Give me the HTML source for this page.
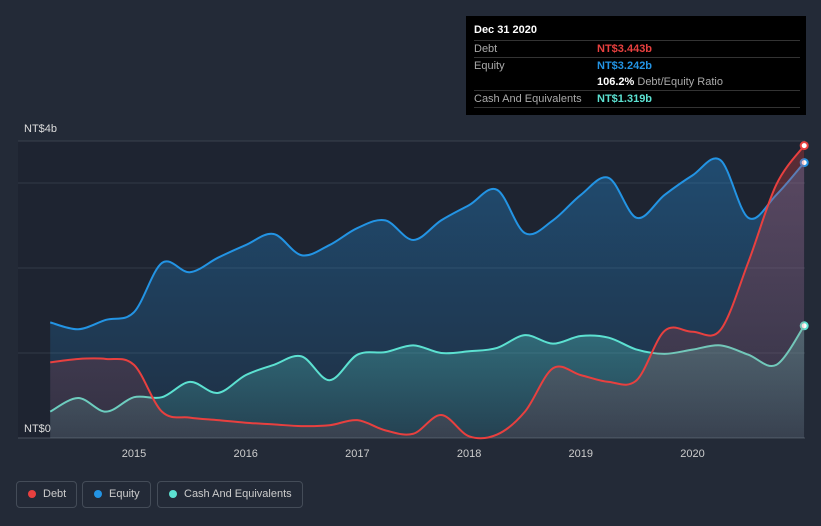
<!DOCTYPE html>
<html><head><meta charset="utf-8"><style>
body{margin:0;background:#232a37;font-family:"Liberation Sans",sans-serif;}
#wrap{position:relative;width:821px;height:526px;overflow:hidden;}
.tt{position:absolute;left:466px;top:16px;width:340px;height:99px;background:#000;color:#fff;font-size:11px;}
.tt .row{position:absolute;left:8px;width:326px;border-top:1px solid #333;height:17px;line-height:17px;}
.lg{position:absolute;top:481px;height:25px;border:1px solid #444c58;border-radius:4px;color:#ccc;font-size:11px;line-height:25px;padding:0 10px 0 26px;}
.lg i{position:absolute;left:11px;top:8px;width:8px;height:8px;border-radius:50%;}
</style></head><body><div id="wrap">
<svg id="svg" width="821" height="526" style="position:absolute;left:0;top:0"></svg>
<div class="tt">
<div style="position:absolute;left:8px;top:8px;font-weight:bold">Dec 31 2020</div>
<div class="row" style="top:24px"><span style="color:#aaa">Debt</span><span style="position:absolute;left:123px;color:#e8403f;font-weight:bold">NT$3.443b</span></div>
<div class="row" style="top:41px"><span style="color:#aaa">Equity</span><span style="position:absolute;left:123px;color:#2394e4;font-weight:bold">NT$3.242b</span></div>
<div class="row" style="top:58px;border-top:none"><span style="position:absolute;left:123px"><b>106.2%</b> <span style="color:#aaa">Debt/Equity Ratio</span></span></div>
<div class="row" style="top:74px"><span style="color:#aaa">Cash And Equivalents</span><span style="position:absolute;left:123px;color:#5ce1d1;font-weight:bold">NT$1.319b</span></div>
<div class="row" style="top:91px;height:0"></div>
</div>
<div class="lg" style="left:16px"><i style="background:#e8403f"></i>Debt</div>
<div class="lg" style="left:82px"><i style="background:#2394e4"></i>Equity</div>
<div class="lg" style="left:157px"><i style="background:#5ce1d1"></i>Cash And Equivalents</div>
</div>
<script>
const years=[2015,2016,2017,2018,2019,2020];
const startYear=2014.25, step=0.25;
const equity=[1.36,1.28,1.39,1.48,2.06,1.95,2.12,2.27,2.40,2.15,2.27,2.47,2.56,2.33,2.56,2.74,2.92,2.41,2.56,2.86,3.06,2.59,2.86,3.09,3.27,2.59,2.86,3.24];
const debt=[0.89,0.93,0.93,0.86,0.31,0.24,0.21,0.18,0.16,0.14,0.15,0.21,0.09,0.05,0.27,0.02,0.04,0.31,0.82,0.74,0.66,0.68,1.26,1.25,1.27,2.07,2.98,3.44];
const cash=[0.31,0.47,0.31,0.48,0.48,0.66,0.53,0.74,0.86,0.96,0.68,0.98,1.01,1.09,1.00,1.02,1.06,1.21,1.11,1.20,1.18,1.04,0.99,1.04,1.09,0.98,0.86,1.32];
const gridVals=[0,1,2,3];
const X=t=>134+(t-2015)*111.7, Y=v=>438-v*85;
const NS="http://www.w3.org/2000/svg", svg=document.getElementById('svg');
function mk(tag,attrs,parent){const e=document.createElementNS(NS,tag);for(const k in attrs)e.setAttribute(k,attrs[k]);(parent||svg).appendChild(e);return e;}
svg.innerHTML='<defs><linearGradient id="ge" x1="0" y1="0" x2="0" y2="1"><stop offset="0" stop-color="#2394e4" stop-opacity="0.35"/><stop offset="1" stop-color="#2394e4" stop-opacity="0.1"/></linearGradient><linearGradient id="gd" x1="0" y1="0" x2="0" y2="1"><stop offset="0" stop-color="#e8403f" stop-opacity="0.3"/><stop offset="1" stop-color="#e8403f" stop-opacity="0.1"/></linearGradient><linearGradient id="gc" x1="0" y1="0" x2="0" y2="1"><stop offset="0" stop-color="#5ce1d1" stop-opacity="0.3"/><stop offset="1" stop-color="#5ce1d1" stop-opacity="0.1"/></linearGradient></defs>';
const bg=mk('rect',{x:18,y:141,width:787,height:297,fill:'#1e2431'});

mk('line',{x1:18,x2:805,y1:141,y2:141,stroke:'#3a414d'});
gridVals.forEach(v=>{const l=mk('line',{x1:18,x2:805,y1:Y(v),y2:Y(v),stroke:'#333a46'});});
mk('line',{x1:18,x2:805,y1:438,y2:438,stroke:'#4a515d'});
let t1=mk('text',{x:24,y:132,fill:'#ddd','font-size':11});t1.textContent='NT$4b';
let t0=mk('text',{x:24,y:432,fill:'#ddd','font-size':11});t0.textContent='NT$0';
years.forEach(y=>{const t=mk('text',{x:X(y),y:457,fill:'#ccc','font-size':11,'text-anchor':'middle'});t.textContent=y;});
function path(vals){const p=vals.map((v,i)=>[X(startYear+i*step),Y(v)]);let d='M'+p[0];for(let i=0;i<p.length-1;i++){const a=p[i-1]||p[i],b=p[i],c=p[i+1],e=p[i+2]||c;d+=' C'+(b[0]+(c[0]-a[0])/6)+','+(b[1]+(c[1]-a[1])/6)+' '+(c[0]-(e[0]-b[0])/6)+','+(c[1]-(e[1]-b[1])/6)+' '+c;}return [d,p];}
function series(vals,col,grad,name){const [d,p]=path(vals);const last=p[p.length-1];
const a=mk('path',{d:d+' L'+last[0]+',438 L'+p[0][0]+',438 Z',fill:'url(#'+grad+')'});
const l=mk('path',{d:d,fill:'none',stroke:col,'stroke-width':2});
const c=mk('circle',{cx:last[0],cy:last[1],r:3.5,fill:'#fff',stroke:col,'stroke-width':2});}
series(equity,'#2394e4','ge','equity');
series(cash,'#5ce1d1','gc','cash');
series(debt,'#e8403f','gd','debt');
</script></body></html>
